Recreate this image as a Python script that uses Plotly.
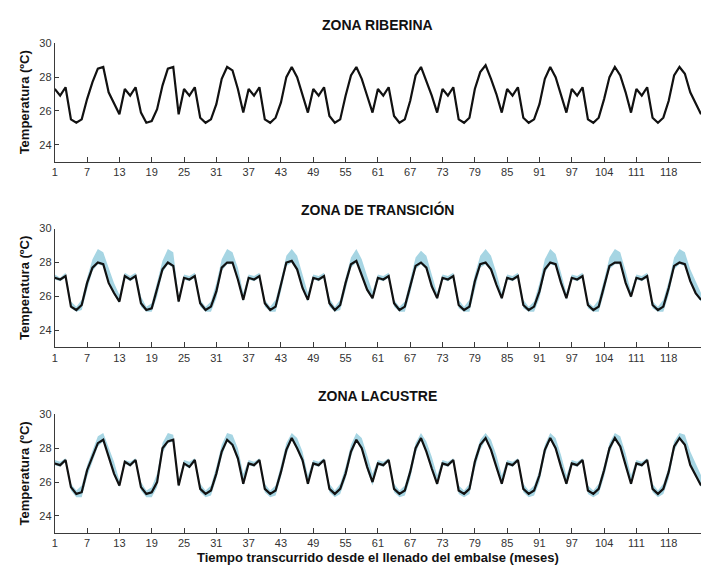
import plotly.graph_objects as go
from plotly.subplots import make_subplots

# Month index (1..121) and axis tick labels
months = list(range(1, 122))
tick_pos = [1, 7, 13, 19, 25, 31, 37, 43, 49, 55, 61, 67, 73, 79, 85, 91, 97, 103, 109, 115]
tick_lbl = ["1", "7", "13", "19", "25", "31", "37", "43", "49", "55", "61", "67",
            "73", "79", "85", "91", "97", "104", "111", "118"]

# Zona riberina: mean temperature (ºC)
riberina = [
    27.3, 26.9, 27.4, 25.5, 25.3, 25.5, 26.7, 27.7, 28.5, 28.6, 27.1, 26.4,
    25.8, 27.3, 26.9, 27.4, 25.9, 25.3, 25.4, 26.1, 27.5, 28.5, 28.6, 25.8,
    27.3, 26.9, 27.4, 25.6, 25.3, 25.5, 26.4, 27.9, 28.6, 28.4, 27.3, 25.9,
    27.3, 26.9, 27.4, 25.5, 25.3, 25.6, 26.5, 28.0, 28.6, 28.0, 26.9, 25.9,
    27.3, 26.9, 27.4, 25.7, 25.3, 25.5, 26.9, 28.1, 28.6, 27.9, 26.9, 25.9,
    27.3, 26.9, 27.4, 25.7, 25.3, 25.5, 26.6, 28.1, 28.6, 27.8, 26.9, 25.9,
    27.3, 26.9, 27.4, 25.5, 25.3, 25.6, 27.3, 28.3, 28.7, 27.9, 27.0, 25.9,
    27.3, 26.9, 27.4, 25.6, 25.3, 25.5, 26.4, 27.9, 28.6, 28.0, 27.0, 25.9,
    27.3, 26.9, 27.4, 25.5, 25.3, 25.6, 26.7, 28.0, 28.6, 28.1, 27.1, 25.9,
    27.3, 26.9, 27.4, 25.6, 25.3, 25.6, 26.6, 28.1, 28.6, 28.2, 27.1, 26.4, 25.8,
]

# Zona de transición: mean and range
transicion = [
    27.1, 27.0, 27.2, 25.4, 25.2, 25.5, 26.8, 27.7, 28.0, 27.9, 26.8, 26.2,
    25.7, 27.2, 27.0, 27.2, 25.6, 25.2, 25.3, 26.4, 27.6, 28.0, 27.8, 25.7,
    27.1, 27.0, 27.2, 25.6, 25.2, 25.4, 26.3, 27.7, 28.0, 28.0, 27.0, 25.8,
    27.1, 27.0, 27.2, 25.6, 25.2, 25.4, 26.7, 28.0, 28.1, 27.6, 26.5, 25.8,
    27.1, 27.0, 27.2, 25.6, 25.2, 25.5, 26.8, 27.9, 28.1, 27.2, 26.4, 25.9,
    27.1, 27.0, 27.2, 25.6, 25.2, 25.4, 26.6, 27.8, 28.0, 27.7, 26.6, 25.9,
    27.1, 27.0, 27.2, 25.5, 25.2, 25.4, 26.9, 27.9, 28.0, 27.6, 26.7, 25.9,
    27.1, 27.0, 27.2, 25.5, 25.2, 25.4, 26.3, 27.6, 28.0, 27.9, 26.8, 25.9,
    27.1, 27.0, 27.2, 25.5, 25.2, 25.4, 26.6, 27.8, 28.0, 28.0, 26.8, 26.0,
    27.1, 27.0, 27.2, 25.5, 25.2, 25.4, 26.5, 27.8, 28.0, 27.9, 26.9, 26.2, 25.8,
]
transicion_max = [
    27.3, 27.1, 27.4, 25.7, 25.4, 25.8, 27.1, 28.2, 28.8, 28.6, 27.7, 26.8,
    26.1, 27.4, 27.2, 27.4, 26.0, 25.4, 25.6, 26.8, 28.1, 28.8, 28.6, 26.0,
    27.3, 27.2, 27.4, 25.8, 25.4, 25.7, 26.8, 28.2, 28.8, 28.6, 27.7, 26.2,
    27.3, 27.2, 27.4, 25.8, 25.4, 25.8, 27.0, 28.4, 28.8, 28.4, 27.3, 26.2,
    27.3, 27.2, 27.4, 25.9, 25.4, 25.8, 27.1, 28.3, 28.8, 28.2, 27.2, 26.3,
    27.3, 27.2, 27.4, 25.8, 25.4, 25.7, 27.0, 28.3, 28.7, 28.4, 27.3, 26.2,
    27.3, 27.2, 27.4, 25.8, 25.4, 25.8, 27.3, 28.4, 28.8, 28.4, 27.4, 26.2,
    27.3, 27.2, 27.4, 25.8, 25.4, 25.7, 26.8, 28.2, 28.8, 28.5, 27.4, 26.2,
    27.3, 27.2, 27.4, 25.7, 25.4, 25.8, 27.0, 28.3, 28.8, 28.6, 27.5, 26.3,
    27.3, 27.2, 27.4, 25.7, 25.4, 25.8, 26.9, 28.3, 28.8, 28.6, 27.6, 26.9, 26.2,
]
transicion_min = [
    27.0, 26.9, 27.1, 25.3, 25.1, 25.2, 26.4, 27.5, 27.9, 27.8, 26.7, 26.1,
    25.6, 27.1, 26.9, 27.1, 25.4, 25.1, 25.1, 26.0, 27.4, 27.9, 27.7, 25.6,
    27.0, 26.9, 27.1, 25.4, 25.1, 25.1, 25.9, 27.5, 27.9, 27.9, 26.9, 25.7,
    27.0, 26.9, 27.1, 25.4, 25.1, 25.1, 26.3, 27.8, 28.0, 27.5, 26.4, 25.7,
    27.0, 26.9, 27.1, 25.4, 25.1, 25.2, 26.4, 27.7, 28.0, 27.1, 26.3, 25.8,
    27.0, 26.9, 27.1, 25.4, 25.1, 25.1, 26.2, 27.6, 27.9, 27.6, 26.5, 25.8,
    27.0, 26.9, 27.1, 25.3, 25.1, 25.1, 26.5, 27.7, 27.9, 27.5, 26.6, 25.8,
    27.0, 26.9, 27.1, 25.3, 25.1, 25.1, 25.9, 27.4, 27.9, 27.8, 26.7, 25.8,
    27.0, 26.9, 27.1, 25.3, 25.1, 25.1, 26.2, 27.6, 27.9, 27.9, 26.7, 25.9,
    27.0, 26.9, 27.1, 25.3, 25.1, 25.1, 26.1, 27.6, 27.9, 27.8, 26.8, 26.1, 25.7,
]

# Zona lacustre: mean and range
lacustre = [
    27.1, 27.0, 27.3, 25.7, 25.3, 25.4, 26.7, 27.5, 28.3, 28.5, 27.5, 26.5,
    25.8, 27.2, 27.0, 27.3, 25.7, 25.3, 25.4, 26.0, 28.0, 28.4, 28.5, 25.8,
    27.1, 26.9, 27.3, 25.6, 25.3, 25.5, 26.5, 27.8, 28.5, 28.2, 27.4, 25.9,
    27.1, 27.0, 27.3, 25.6, 25.3, 25.5, 26.6, 27.9, 28.6, 28.0, 27.3, 25.9,
    27.1, 27.0, 27.3, 25.6, 25.3, 25.6, 26.5, 27.8, 28.5, 28.0, 26.9, 26.0,
    27.1, 27.0, 27.3, 25.6, 25.3, 25.5, 26.6, 28.0, 28.6, 27.8, 26.8, 25.9,
    27.1, 27.0, 27.3, 25.5, 25.3, 25.6, 27.2, 28.2, 28.6, 27.9, 26.9, 25.9,
    27.1, 27.0, 27.3, 25.6, 25.3, 25.5, 26.4, 27.9, 28.6, 28.0, 26.9, 25.9,
    27.1, 27.0, 27.3, 25.5, 25.3, 25.6, 26.7, 28.0, 28.6, 28.1, 27.0, 25.9,
    27.1, 27.0, 27.3, 25.6, 25.3, 25.6, 26.6, 28.1, 28.6, 28.2, 27.0, 26.4, 25.8,
]
lacustre_max = [
    27.3, 27.2, 27.4, 25.9, 25.5, 25.8, 27.0, 27.9, 28.7, 28.9, 28.1, 27.2,
    26.1, 27.3, 27.2, 27.4, 26.0, 25.5, 25.7, 26.5, 28.3, 28.9, 28.8, 26.1,
    27.3, 27.2, 27.4, 25.9, 25.5, 25.8, 26.9, 28.2, 28.9, 28.8, 28.0, 26.5,
    27.3, 27.2, 27.4, 25.9, 25.5, 25.8, 27.0, 28.3, 28.9, 28.6, 27.8, 26.4,
    27.3, 27.2, 27.4, 25.9, 25.5, 25.9, 26.9, 28.2, 28.9, 28.6, 27.6, 26.5,
    27.3, 27.2, 27.4, 25.9, 25.5, 25.8, 26.9, 28.3, 28.9, 28.4, 27.5, 26.4,
    27.3, 27.2, 27.4, 25.8, 25.5, 25.9, 27.5, 28.5, 28.9, 28.5, 27.6, 26.4,
    27.3, 27.2, 27.4, 25.9, 25.5, 25.8, 26.7, 28.2, 28.9, 28.6, 27.6, 26.4,
    27.3, 27.2, 27.4, 25.8, 25.5, 25.9, 27.0, 28.3, 28.9, 28.7, 27.7, 26.4,
    27.3, 27.2, 27.4, 25.9, 25.5, 25.9, 26.9, 28.4, 28.9, 28.8, 27.8, 27.1, 26.4,
]
lacustre_min = [
    27.0, 26.9, 27.2, 25.5, 25.1, 25.1, 26.3, 27.2, 28.1, 28.4, 27.4, 26.4,
    25.7, 27.1, 26.9, 27.2, 25.5, 25.1, 25.1, 25.7, 27.7, 28.3, 28.4, 25.7,
    27.0, 26.8, 27.2, 25.4, 25.1, 25.2, 26.2, 27.5, 28.4, 28.1, 27.2, 25.8,
    27.0, 26.9, 27.2, 25.4, 25.1, 25.2, 26.3, 27.6, 28.5, 27.9, 27.1, 25.8,
    27.0, 26.9, 27.2, 25.4, 25.1, 25.3, 26.2, 27.5, 28.4, 27.9, 26.7, 25.8,
    27.0, 26.9, 27.2, 25.4, 25.1, 25.2, 26.2, 27.7, 28.5, 27.7, 26.7, 25.8,
    27.0, 26.9, 27.2, 25.3, 25.1, 25.3, 26.8, 27.9, 28.5, 27.8, 26.8, 25.8,
    27.0, 26.9, 27.2, 25.4, 25.1, 25.2, 26.0, 27.6, 28.5, 27.9, 26.8, 25.8,
    27.0, 26.9, 27.2, 25.3, 25.1, 25.3, 26.3, 27.7, 28.5, 28.0, 26.9, 25.8,
    27.0, 26.9, 27.2, 25.4, 25.1, 25.3, 26.2, 27.8, 28.5, 28.1, 26.9, 26.3, 25.7,
]

titles = ["ZONA RIBERINA", "ZONA DE TRANSICIÓN", "ZONA LACUSTRE"]
y_title = "Temperatura (ºC)"
x_title = "Tiempo transcurrido desde el llenado del embalse (meses)"

W, H = 707, 567
FONT = "Liberation Sans, Arial, sans-serif"
BAND = "#a6d5e3"
LINE = "#111111"
AXIS = "#3a3a3a"

# pixel extents of each panel (top, bottom) and shared x extents
panel_px = [(37.7, 157.3), (225.0, 345.0), (412.7, 532.5)]
x_px = (52.0, 701.0)

fig = make_subplots(rows=3, cols=1)

def band(row, lo, hi):
    fig.add_trace(go.Scatter(x=months, y=lo, mode="lines", line=dict(width=0),
                             hoverinfo="skip", showlegend=False), row=row, col=1)
    fig.add_trace(go.Scatter(x=months, y=hi, mode="lines", line=dict(width=0),
                             fill="tonexty", fillcolor=BAND,
                             hoverinfo="skip", showlegend=False), row=row, col=1)

def mean_line(row, y):
    fig.add_trace(go.Scatter(x=months, y=y, mode="lines",
                             line=dict(color=LINE, width=2.2),
                             showlegend=False), row=row, col=1)

mean_line(1, riberina)
band(2, transicion_min, transicion_max)
mean_line(2, transicion)
band(3, lacustre_min, lacustre_max)
mean_line(3, lacustre)

annotations = []
for i, (top, bot) in enumerate(panel_px):
    ax = "" if i == 0 else str(i + 1)
    dom = [1 - bot / H, 1 - top / H]
    fig.layout["yaxis" + ax].update(
        domain=dom, range=[23, 30], tickvals=[24, 26, 28, 30],
        ticks="inside", ticklen=4, tickcolor=AXIS, showline=True,
        linecolor=AXIS, linewidth=1, showgrid=False, zeroline=False,
        tickfont=dict(family=FONT, size=11, color="#333333"))
    fig.layout["xaxis" + ax].update(
        domain=[x_px[0] / W, x_px[1] / W], range=[1, 121],
        tickvals=tick_pos, ticktext=tick_lbl,
        ticks="inside", ticklen=5, tickcolor=AXIS, showline=True,
        linecolor=AXIS, linewidth=1, showgrid=False, zeroline=False,
        tickfont=dict(family=FONT, size=11, color="#333333"))
    # panel title
    annotations.append(dict(
        text="<b>" + titles[i] + "</b>", xref="paper", yref="paper",
        x=(x_px[0] + x_px[1]) / 2 / W, y=1 - (top - 19) / H,
        xanchor="center", yanchor="middle", showarrow=False,
        font=dict(family=FONT, size=14, color="#111111")))
    # y-axis title
    annotations.append(dict(
        text="<b>" + y_title + "</b>", xref="paper", yref="paper",
        x=22 / W, y=1 - ((top + bot) / 2) / H, textangle=-90,
        xanchor="center", yanchor="middle", showarrow=False,
        font=dict(family=FONT, size=13, color="#111111")))

annotations.append(dict(
    text="<b>" + x_title + "</b>", xref="paper", yref="paper",
    x=(x_px[0] + x_px[1]) / 2 / W, y=1 - 557 / H,
    xanchor="center", yanchor="middle", showarrow=False,
    font=dict(family=FONT, size=13, color="#111111")))

fig.update_layout(
    width=W, height=H, margin=dict(l=0, r=0, t=0, b=0),
    paper_bgcolor="white", plot_bgcolor="white",
    annotations=annotations, showlegend=False)

fig.write_html("out.html")
